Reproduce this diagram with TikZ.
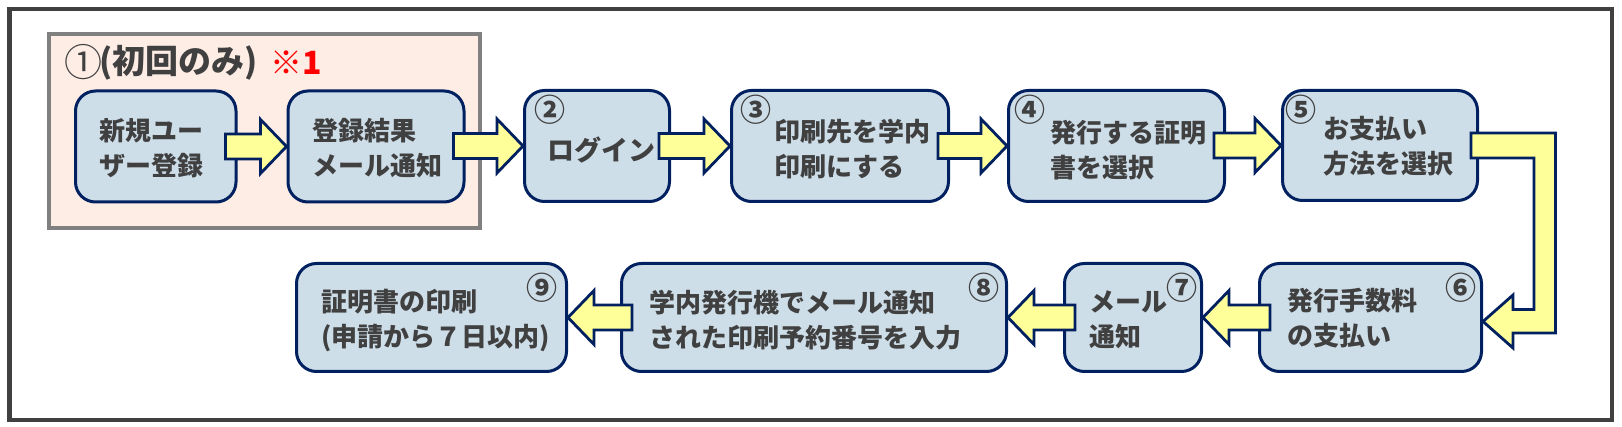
\documentclass[tikz,border=0pt]{standalone}
\usepackage{fontspec}
\newfontfamily\jp{Noto Sans CJK JP}
\usetikzlibrary{calc,fit}
\definecolor{boxfill}{RGB}{206,222,233}
\definecolor{navy}{RGB}{0,32,96}
\definecolor{arrowfill}{RGB}{255,255,153}
\definecolor{txt}{RGB}{64,64,64}
\definecolor{peach}{RGB}{253,237,229}
\definecolor{framegray}{RGB}{64,64,64}
\definecolor{groupgray}{RGB}{128,128,128}
\tikzset{
 stepbox/.style={draw=navy, line width=3pt, fill=boxfill, rounded corners=20pt, inner sep=0pt},
 barrow/.style={draw=navy, line width=2.8pt, fill=arrowfill, line join=miter},
 lbl/.style={text=txt, font=\jp\bfseries\fontsize{26}{35}\selectfont, align=left, anchor=west, inner sep=0pt},
 num/.style={text=txt, font=\jp\bfseries\fontsize{31}{31}\selectfont, inner sep=0pt},
}
\newcommand\rightarr[2]{%
 \draw[barrow] let \p1=(#1.east), \p2=(#2.west) in
 (\x1-12pt,\y2+12.5pt) -- (\x2-26pt,\y2+12.5pt) -- (\x2-26pt,\y2+27pt) -- (\x2,\y2)
 -- (\x2-26pt,\y2-27pt) -- (\x2-26pt,\y2-12.5pt) -- (\x1-12pt,\y2-12.5pt) -- cycle;}
\newcommand\leftarr[2]{%
 \draw[barrow] let \p1=(#1.west), \p2=(#2.east) in
 (\x1+12pt,\y2+12.5pt) -- (\x2+26pt,\y2+12.5pt) -- (\x2+26pt,\y2+27pt) -- (\x2,\y2)
 -- (\x2+26pt,\y2-27pt) -- (\x2+26pt,\y2-12.5pt) -- (\x1+12pt,\y2-12.5pt) -- cycle;}
\begin{document}
\begin{tikzpicture}[x=1pt,y=-1pt]
\useasboundingbox (0,0) rectangle (1622,427);
\fill[white] (0,0) rectangle (1622,427);
% outer frame
\node[draw=framegray, line width=4.5pt, inner sep=0pt, fit={(9.5,9) (1612,420)}] (frame) {};
% group box
\node[draw=groupgray, line width=4pt, fill=peach, inner sep=0pt, fit={(49,34) (480,228)}] (grp) {};
\node[text=txt, inner sep=0pt, font=\jp\fontsize{38}{38}\selectfont] (n1) at (83,62) {①};
\node[anchor=west, inner sep=0pt, text=txt, font=\jp\bfseries\fontsize{33}{33}\selectfont] (title) at (99,63) {(初回のみ)};
\node[anchor=west, inner sep=0pt, text=red, font=\jp\bfseries\fontsize{32}{32}\selectfont] (note) at (270,63) {※1};
% boxes
\node[stepbox, fit={(75.5,91) (236,202)}] (b1) {};
\node[stepbox, fit={(288,91) (464,202)}] (b2) {};
\node[stepbox, fit={(524.5,90.5) (669.5,201.5)}] (b3) {};
\node[stepbox, fit={(731.5,90.5) (948.5,201.5)}] (b4) {};
\node[stepbox, fit={(1008.5,90.5) (1224.5,201.5)}] (b5) {};
\node[stepbox, fit={(1282.5,90.5) (1477.5,200.5)}] (b6) {};
\node[stepbox, fit={(1259.5,263.5) (1481.5,371.5)}] (b7) {};
\node[stepbox, fit={(1064.5,263.5) (1201.5,371.5)}] (b8) {};
\node[stepbox, fit={(621.5,263.5) (1006.5,371.5)}] (b9) {};
\node[stepbox, fit={(296.5,263.5) (566.5,371.5)}] (b10) {};
% arrows
\rightarr{b1}{b2}
\rightarr{b2}{b3}
\rightarr{b3}{b4}
\rightarr{b4}{b5}
\rightarr{b5}{b6}
\draw[barrow] let \p1=(b6.east), \p2=(b7.east) in
 (\x1-8pt,\y1+12.5pt) -- (\x1+76.5pt,\y1+12.5pt) -- (\x1+76.5pt,\y2-15.5pt)
 -- (\x2+30pt,\y2-15.5pt) -- (\x2+30pt,\y2-30.5pt) -- (\x2,\y2-4pt)
 -- (\x2+30pt,\y2+22.5pt) -- (\x2+30pt,\y2+8pt) -- (\x1+55pt,\y2+8pt)
 -- (\x1+55pt,\y1-12.5pt) -- (\x1-8pt,\y1-12.5pt) -- cycle;
\leftarr{b7}{b8}
\leftarr{b8}{b9}
\leftarr{b9}{b10}
% texts
\node[lbl] (t1) at (99,148.5) {新規ユー\\ザー登録};
\node[lbl] (t2) at (312,148.5) {登録結果\\メール通知};
\node[text=txt, font=\jp\bfseries\fontsize{27}{27}\selectfont, inner sep=0pt] (t3) at (601,150) {ログイン};
\node[lbl] (t4) at (774,149.5) {印刷先を学内\\印刷にする};
\node[lbl] (t5) at (1050,150) {発行する証明\\書を選択};
\node[lbl] (t6) at (1323,146.5) {お支払い\\方法を選択};
\node[lbl] (t7) at (1287,318.5) {発行手数料\\の支払い};
\node[lbl] (t8) at (1089,320) {メール\\通知};
\node[lbl] (t9) at (649,320) {学内発行機でメール通知\\された印刷予約番号を入力};
\node[lbl] (t10) at (321,320) {証明書の印刷\\(申請から７日以内)};
% numbers
\node[num] (n2) at (550,109.5) {②};
\node[num] (n3) at (756,109.5) {③};
\node[num] (n4) at (1030,109.5) {④};
\node[num] (n5) at (1301,109.5) {⑤};
\node[num] (n6) at (1461,287.5) {⑥};
\node[num] (n7) at (1182,288) {⑦};
\node[num] (n8) at (984,288) {⑧};
\node[num] (n9) at (542,288) {⑨};
\end{tikzpicture}
\end{document}
